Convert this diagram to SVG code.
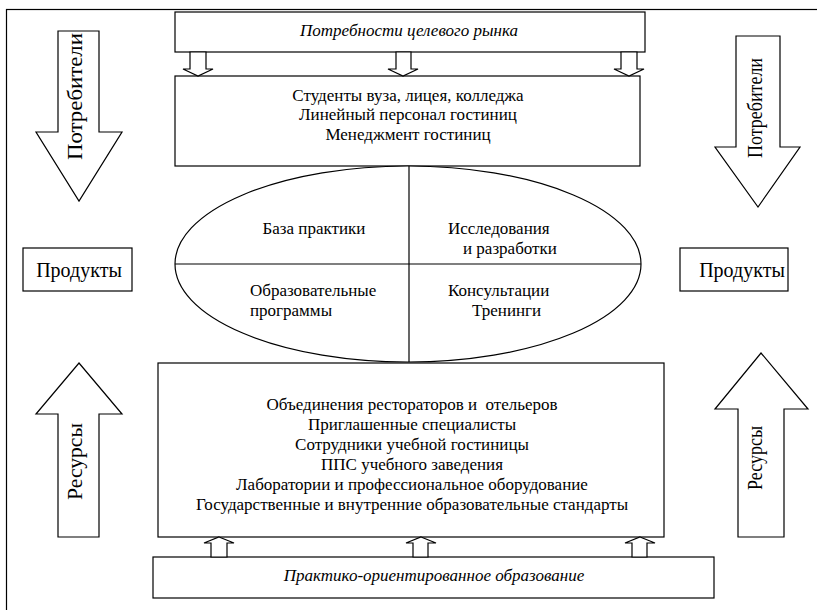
<svg xmlns="http://www.w3.org/2000/svg" width="817" height="610" viewBox="0 0 817 610">
<style>
.s{fill:#fff;stroke:#000;stroke-width:1.2}
.n{fill:none;stroke:#000;stroke-width:1.2}
text{font-family:"Liberation Serif","Times New Roman",serif;fill:#000;text-anchor:middle}
.t{font-size:17px}
.l{font-size:17px;text-anchor:start}
.i{font-size:17px;font-style:italic}
.b{font-size:21px}
.m{font-size:20px}
</style>
<rect x="0" y="0" width="817" height="610" fill="#fff"/>
<rect id="frame" x="6.5" y="9.5" width="820" height="620" class="n"/>
<g id="needs"><rect x="175" y="12" width="470" height="40" class="s"/><text class="i" x="409" y="36">Потребности целевого рынка</text></g>
<g id="consumers"><rect x="175" y="76" width="465" height="90" class="s"/>
<text class="t" x="408" y="101">Студенты вуза, лицея, колледжа</text>
<text class="t" x="408" y="120">Линейный персонал гостиниц</text>
<text class="t" x="408" y="140">Менеджмент гостиниц</text></g>
<g id="core"><ellipse cx="408" cy="264" rx="233" ry="98" class="s"/>
<line x1="175" y1="264" x2="641" y2="264" class="n"/>
<line x1="409" y1="166" x2="409" y2="362" class="n"/>
<text class="t" x="314" y="234">База практики</text>
<text class="l" x="448" y="234">Исследования</text>
<text class="l" x="463" y="254">и разработки</text>
<text class="l" x="250" y="296">Образовательные</text>
<text class="l" x="250" y="316">программы</text>
<text class="l" x="448" y="296">Консультации</text>
<text class="l" x="472" y="316">Тренинги</text></g>
<g id="resources"><rect x="158" y="363" width="506" height="174" class="s"/>
<text class="t" x="412" y="410" xml:space="preserve">Объединения рестораторов и  отельеров</text>
<text class="t" x="412" y="430">Приглашенные специалисты</text>
<text class="t" x="412" y="450">Сотрудники учебной гостиницы</text>
<text class="t" x="412" y="470">ППС учебного заведения</text>
<text class="t" x="412" y="490">Лаборатории и профессиональное оборудование</text>
<text class="t" x="412" y="510">Государственные и внутренние образовательные стандарты</text></g>
<g id="practice"><rect x="153" y="557" width="561" height="41" class="s"/><text class="i" x="434" y="581">Практико-ориентированное образование</text></g>
<g id="products-left"><rect x="23" y="248" width="109" height="43" class="s"/><text class="m" x="79" y="277">Продукты</text></g>
<g id="products-right"><rect x="680" y="248" width="108" height="43" class="s"/><text class="m" x="742" y="277">Продукты</text></g>
<g id="consumers-left"><polygon points="58,31 99,31 99,132 122,132 79,201 36,132 58,132" class="s"/><text class="b" transform="translate(82,96.5) rotate(-90)" textLength="127" lengthAdjust="spacingAndGlyphs">Потребители</text></g>
<g id="consumers-right"><polygon points="736,36 780,36 780,147 800,147 758,207 715,147 736,147" class="s"/><text class="b" transform="translate(762,108) rotate(-90)" textLength="100" lengthAdjust="spacingAndGlyphs">Потребители</text></g>
<g id="res-left"><polygon points="79,363 122,414 99,414 99,537 58,537 58,414 36,414" class="s"/><text class="b" transform="translate(82,461.5) rotate(-90)" textLength="77" lengthAdjust="spacingAndGlyphs">Ресурсы</text></g>
<g id="res-right"><polygon points="761,353 808,409 784,409 784,537 738,537 738,409 715,409" class="s"/><text class="b" transform="translate(762,458) rotate(-90)" textLength="64" lengthAdjust="spacingAndGlyphs">Ресурсы</text></g>
<g id="connectors">
<polygon points="190,52 206,52 206,69 213,69 198,76 183,69 190,69" class="s"/>
<polygon points="396,52 411,52 411,69 418,69 403,76 388,69 396,69" class="s"/>
<polygon points="621,52 637,52 637,69 644,69 629,76 614,69 621,69" class="s"/>
<polygon points="219,537 234,543 227,543 227,557 211,557 211,543 204,543" class="s"/>
<polygon points="421,537 436,543 428,543 428,557 413,557 413,543 406,543" class="s"/>
<polygon points="640,537 655,543 647,543 647,557 632,557 632,543 625,543" class="s"/>
</g>
</svg>
